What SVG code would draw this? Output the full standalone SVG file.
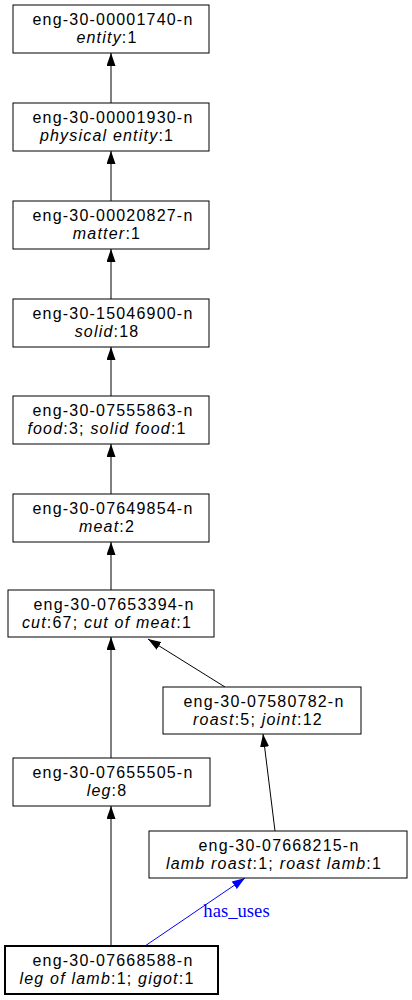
<svg xmlns="http://www.w3.org/2000/svg" width="412" height="1000" viewBox="0 0 412 1000">
<style>
.box{fill:#fff;stroke:#000;stroke-width:1}
.bold{stroke-width:2}
text{font-family:"Liberation Sans",Arial,sans-serif;font-size:16px;letter-spacing:1.2px;fill:#000;text-anchor:middle}
.i{font-style:italic}
.e{stroke:#000;stroke-width:1;fill:none}
.lbl{font-family:"Liberation Serif","Times New Roman",serif;fill:#0000ff;font-size:18.67px;letter-spacing:0}
</style>
<defs>
<marker id="ah" markerWidth="13" markerHeight="9" refX="13" refY="4.5" orient="auto" markerUnits="userSpaceOnUse"><path d="M0,0 L13,4.5 L0,9 Z" fill="#000"/></marker>
<marker id="ahb" markerWidth="13" markerHeight="9" refX="13" refY="4.5" orient="auto" markerUnits="userSpaceOnUse"><path d="M0,0 L13,4.5 L0,9 Z" fill="#0000ff"/></marker>
</defs>
<g id="edges">
<line class="e" x1="111" y1="103" x2="111" y2="53" marker-end="url(#ah)"/>
<line class="e" x1="111" y1="201" x2="111" y2="151" marker-end="url(#ah)"/>
<line class="e" x1="111" y1="299" x2="111" y2="249" marker-end="url(#ah)"/>
<line class="e" x1="111" y1="396" x2="111" y2="347" marker-end="url(#ah)"/>
<line class="e" x1="111" y1="494" x2="111" y2="444" marker-end="url(#ah)"/>
<line class="e" x1="111" y1="590" x2="111" y2="542" marker-end="url(#ah)"/>
<line class="e" x1="111" y1="758" x2="111" y2="637" marker-end="url(#ah)"/>
<line class="e" x1="225" y1="687" x2="148" y2="639" marker-end="url(#ah)"/>
<line class="e" x1="275" y1="831" x2="263" y2="734" marker-end="url(#ah)"/>
<line class="e" x1="111" y1="946" x2="111" y2="806" marker-end="url(#ah)"/>
<line x1="145" y1="946" x2="245" y2="878" stroke="#0000ff" stroke-width="1" marker-end="url(#ahb)"/>
<text class="lbl" x="236.5" y="917">has_uses</text>
</g>
<g id="n1"><rect class="box" x="13" y="5" width="196" height="48"/><text x="113" y="24.5">eng-30-00001740-n</text><text x="107" y="42.5"><tspan class="i">entity</tspan>:1</text></g>
<g id="n2"><rect class="box" x="13" y="103" width="196" height="48"/><text x="113" y="122.5">eng-30-00001930-n</text><text x="107" y="140.5"><tspan class="i">physical entity</tspan>:1</text></g>
<g id="n3"><rect class="box" x="13" y="201" width="196" height="48"/><text x="113" y="220.5">eng-30-00020827-n</text><text x="107" y="238.5"><tspan class="i">matter</tspan>:1</text></g>
<g id="n4"><rect class="box" x="13" y="299" width="196" height="48"/><text x="113" y="318.5">eng-30-15046900-n</text><text x="107" y="336.5"><tspan class="i">solid</tspan>:18</text></g>
<g id="n5"><rect class="box" x="13" y="396" width="196" height="48"/><text x="113" y="415.5">eng-30-07555863-n</text><text x="107" y="433.5"><tspan class="i">food</tspan>:3; <tspan class="i">solid food</tspan>:1</text></g>
<g id="n6"><rect class="box" x="13" y="494" width="196" height="48"/><text x="113" y="513.5">eng-30-07649854-n</text><text x="107" y="531.5"><tspan class="i">meat</tspan>:2</text></g>
<g id="n7"><rect class="box" x="8" y="590" width="206" height="47"/><text x="114" y="609.5">eng-30-07653394-n</text><text x="107" y="627.5"><tspan class="i">cut</tspan>:67; <tspan class="i">cut of meat</tspan>:1</text></g>
<g id="n8"><rect class="box" x="163" y="687" width="198" height="47"/><text x="264" y="706.5">eng-30-07580782-n</text><text x="258" y="724.5"><tspan class="i">roast</tspan>:5; <tspan class="i">joint</tspan>:12</text></g>
<g id="n9"><rect class="box" x="13" y="758" width="197" height="48"/><text x="113" y="777.5">eng-30-07655505-n</text><text x="107" y="795.5"><tspan class="i">leg</tspan>:8</text></g>
<g id="n10"><rect class="box" x="149" y="831" width="258" height="47"/><text x="279" y="850.5">eng-30-07668215-n</text><text x="274" y="868.5"><tspan class="i">lamb roast</tspan>:1; <tspan class="i">roast lamb</tspan>:1</text></g>
<g id="n11"><rect class="box bold" x="5" y="946" width="213" height="48"/><text x="113" y="965.5">eng-30-07668588-n</text><text x="107" y="983.5"><tspan class="i">leg of lamb</tspan>:1; <tspan class="i">gigot</tspan>:1</text></g>
</svg>
